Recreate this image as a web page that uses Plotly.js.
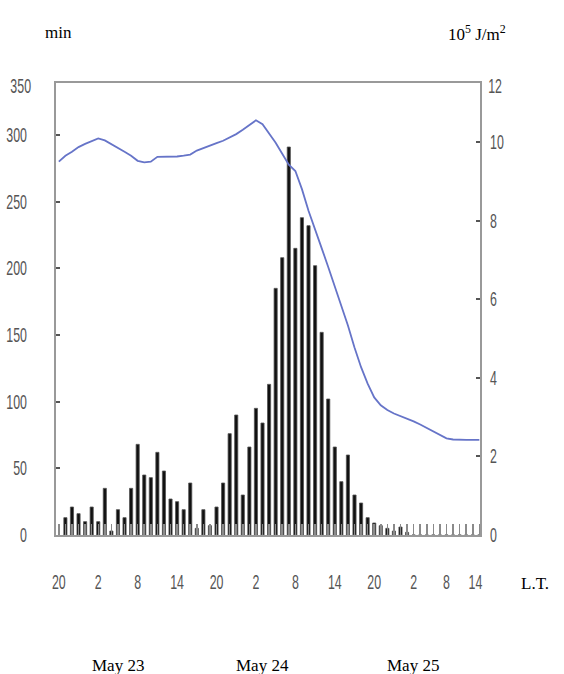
<!DOCTYPE html>
<html>
<head>
<meta charset="utf-8">
<script src="https://cdn.plot.ly/plotly-3.0.1.min.js"></script>
<style>html,body{margin:0;padding:0;background:#fff;}#chart{width:564px;height:674px;}</style>
</head>
<body>
<div id="chart"></div>
<script>
// Hours since May 22, 20:00 L.T.
var barHours = [];
for (var i = 1; i <= 64; i++) barHours.push(i);
// Sunshine duration (min)
var sunshineMin = [13,21,16,10,21,10,35,3,19,13,35,68,45,43,62,48,27,25,19,39,
                   5,19,7,21,39,76,90,30,66,95,84,113,185,208,291,215,238,232,202,152,
                   102,66,40,60,30,24,13,9,7,5,3,6,2,0,0,0,0,0,0,0,0,0,0,0];
// Radiation curve (10^5 J/m^2)
var lineHours = [];
for (var j = 0; j <= 64; j++) lineHours.push(j);
var radiation = [9.50,9.65,9.75,9.87,9.95,10.03,10.09,10.04,9.95,9.85,9.75,9.65,9.52,9.48,9.50,9.62,9.62,9.62,9.63,9.65,
                 9.68,9.78,9.85,9.90,9.97,10.03,10.11,10.20,10.31,10.43,10.55,10.45,10.22,9.98,9.70,9.42,9.26,8.80,8.25,7.75,
                 7.30,6.82,6.32,5.85,5.33,4.77,4.27,3.85,3.50,3.30,3.18,3.09,3.03,2.97,2.89,2.81,2.72,2.63,2.54,2.46,
                 2.43,2.42,2.42,2.42,2.42];
var xTickVals = [0,6,12,18,24,30,36,42,48,54,59,63.4];
var xTickText = ['20','2','8','14','20','2','8','14','20','2','8','14'];
var leftTicks = [0,50,100,150,200,250,300];
var rightTicks = [0,2,4,6,8,10];
var dayLabels = ['May 23','May 24','May 25'];

var tickFont = {family:'Liberation Sans, Arial, sans-serif', size:20, color:'#555'};
var serif = {family:'Liberation Serif, Times New Roman, serif', size:17, color:'#000'};

var traces = [
  {type:'bar', x:barHours, y:sunshineMin, width:0.48, yaxis:'y',
   marker:{color:'#111', line:{color:'#555', width:0.8}}, hoverinfo:'skip'},
  {type:'scatter', mode:'lines', x:lineHours, y:radiation, yaxis:'y2',
   line:{color:'#6674c8', width:1.8}, hoverinfo:'skip'}
];

function px2x(px){return (px-56)/424;}
function py2y(py){return (535-py)/452;}

var annotations = [
  {text:'min', x:px2x(58), y:py2y(33)},
  {text:'10<sup>5</sup> J/m<sup>2</sup>', x:px2x(477), y:py2y(33)},
  {text:'L.T.', x:px2x(535), y:py2y(583)},
  {text:dayLabels[0], x:px2x(118), y:py2y(665)},
  {text:dayLabels[1], x:px2x(262), y:py2y(665)},
  {text:dayLabels[2], x:px2x(413), y:py2y(665)}
].map(function(a){return Object.assign({xref:'paper', yref:'paper', showarrow:false, font:serif, xanchor:'center', yanchor:'middle'}, a);});
annotations.push({text:'350', x:px2x(20), y:py2y(86), xref:'paper', yref:'paper', showarrow:false, font:tickFont, xanchor:'center', yanchor:'middle'});
annotations.push({text:'12', x:px2x(495), y:py2y(86), xref:'paper', yref:'paper', showarrow:false, font:tickFont, xanchor:'center', yanchor:'middle'});

var layout = {
  width:564, height:674,
  margin:{l:56, r:84, t:83, b:139},
  paper_bgcolor:'#fff', plot_bgcolor:'#fff',
  showlegend:false, bargap:0,
  xaxis:{range:[-0.43,64.1], tickmode:'array', tickvals:xTickVals, ticktext:xTickText,
         ticks:'', tickfont:tickFont, ticklabelstandoff:28,
         showline:true, linecolor:'#999', linewidth:2, mirror:true,
         showgrid:false, zeroline:false,
         minor:{tickmode:'linear', tick0:0, dtick:1, ticks:'inside', ticklen:11, tickcolor:'#8a8a8a', tickwidth:1.5, showgrid:false}},
  yaxis:{range:[0,339], tickmode:'array', tickvals:leftTicks, ticks:'inside', ticklen:4, tickwidth:2, tickcolor:'#555',
         tickfont:tickFont, ticklabelstandoff:23,
         showline:true, linecolor:'#999', linewidth:2, showgrid:false, zeroline:false},
  yaxis2:{range:[0,11.5], overlaying:'y', side:'right', tickmode:'array', tickvals:rightTicks,
          ticks:'inside', ticklen:4, tickwidth:2, tickcolor:'#555', tickfont:tickFont, ticklabelstandoff:4,
          showline:true, linecolor:'#999', linewidth:2, showgrid:false, zeroline:false},
  annotations:annotations
};
function condense(t){
  var X = parseFloat(t.getAttribute('x')) || 0, Y = parseFloat(t.getAttribute('y')) || 0;
  var tr = t.getAttribute('transform') || '';
  t.setAttribute('transform', tr + ' translate(' + X + ',' + Y + ') scale(0.62,1) translate(' + (-X) + ',' + (-Y) + ')');
}
Plotly.newPlot('chart', traces, layout, {staticPlot:true, displayModeBar:false}).then(function(gd){
  gd.querySelectorAll('.xtick text, .ytick text, .y2tick text').forEach(condense);
  gd.querySelectorAll('text.annotation-text').forEach(function(t){
    if (t.textContent === '350' || t.textContent === '12') condense(t);
  });
});
</script>
</body>
</html>
